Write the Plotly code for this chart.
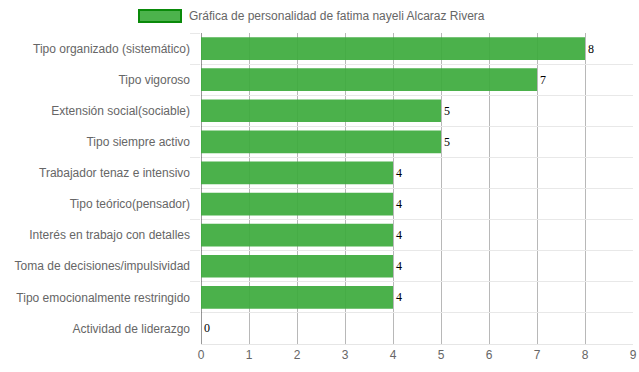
import plotly.graph_objects as go

categories = [
    "Tipo organizado (sistemático)",
    "Tipo vigoroso",
    "Extensión social(sociable)",
    "Tipo siempre activo",
    "Trabajador tenaz e intensivo",
    "Tipo teórico(pensador)",
    "Interés en trabajo con detalles",
    "Toma de decisiones/impulsividad",
    "Tipo emocionalmente restringido",
    "Actividad de liderazgo",
]
values = [8, 7, 5, 5, 4, 4, 4, 4, 4, 0]
x_ticks = [0, 1, 2, 3, 4, 5, 6, 7, 8, 9]
series_name = "Gráfica de personalidad de fatima nayeli Alcaraz Rivera"

GREEN = "rgba(60,170,60,0.92)"
FONT = "Liberation Sans, Arial, sans-serif"

fig = go.Figure()
fig.add_trace(go.Bar(
    y=categories,
    x=values,
    orientation="h",
    name=series_name,
    marker=dict(color=GREEN, line=dict(width=0)),
    text=[str(v) for v in values],
    textposition="outside",
    textfont=dict(family="Liberation Serif, serif", size=12, color="#000"),
    cliponaxis=False,
    showlegend=False,
))

fig.update_layout(
    template="none",
    width=639, height=372,
    margin=dict(l=201, r=6, t=33, b=28, autoexpand=False),
    paper_bgcolor="white", plot_bgcolor="white",
    bargap=0.27,
    font=dict(family=FONT, size=12, color="#666"),
    xaxis=dict(
        automargin=False,
        range=[0, 9], tickvals=x_ticks, ticktext=[str(t) for t in x_ticks],
        showgrid=True, gridcolor="rgba(0,0,0,0.28)", gridwidth=1,
        layer="above traces",
        zeroline=True, zerolinecolor="rgba(0,0,0,0.4)", zerolinewidth=1,
        showline=True, linecolor="#e6e6e6", linewidth=1,
        ticks="", tickfont=dict(size=12, color="#666"),
        fixedrange=True,
    ),
    yaxis=dict(
        automargin=False,
        type="category", autorange="reversed",
        tickson="boundaries", showgrid=True, gridcolor="#e8e8e8", gridwidth=1,
        ticks="outside", ticklen=10, tickcolor="#e8e8e8", tickwidth=1,
        ticklabelstandoff=10,
        tickfont=dict(size=12, color="#666"),
        showline=False, zeroline=False,
        fixedrange=True,
    ),
    shapes=[dict(
        type="rect", xref="paper", yref="paper",
        x0=-(201 - 139) / 432, x1=-(201 - 181) / 432,
        y0=1 + (33 - 22) / 311, y1=1 + (33 - 10) / 311,
        fillcolor="#4CB34C", line=dict(color="#0a8a0a", width=2),
    )],
    annotations=[dict(
        text=series_name, xref="paper", yref="paper",
        x=-(201 - 187) / 432, y=1 + (33 - 16) / 311,
        xanchor="left", yanchor="middle", showarrow=False,
        font=dict(family=FONT, size=12, color="#666"),
    )],
)

fig.write_html(
    "out.html",
    config={"displayModeBar": False},
    post_script="document.body.style.margin='0';document.body.style.overflow='hidden';",
)
